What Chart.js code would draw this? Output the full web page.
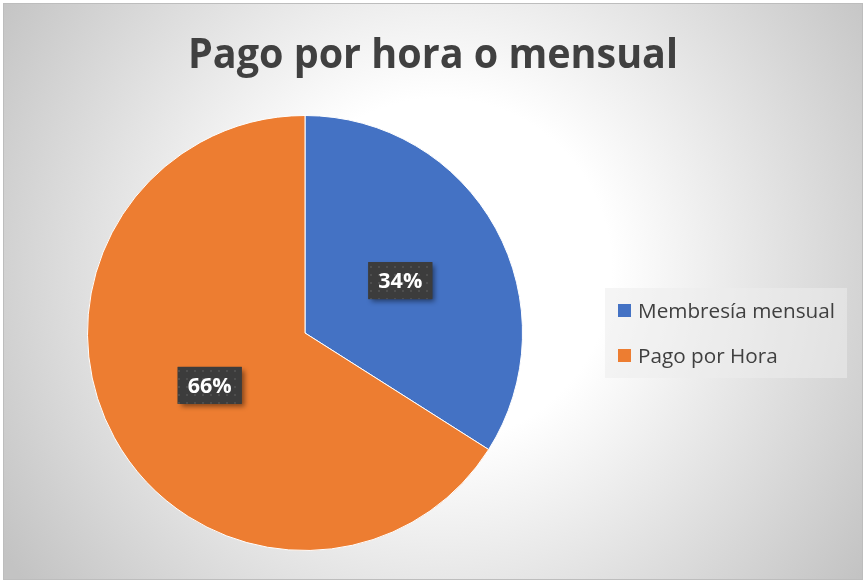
<!DOCTYPE html>
<html>
<head>
<meta charset="utf-8">
<script src="https://cdn.jsdelivr.net/npm/chart.js@4"></script>
<style>
  html, body { margin: 0; padding: 0; background: #ffffff; }
  #wrap { width: 865px; height: 582px; }
</style>
</head>
<body>
<div id="wrap"><canvas id="c" width="865" height="582"></canvas></div>
<script>
const titleText = "Pago por hora o mensual";
const categories = ["Membresía mensual", "Pago por Hora"];
const values = [34, 66];
const percentLabels = ["34%", "66%"];
const sliceColors = ["#4472C4", "#ED7D31"];

const FONT = "'Open Sans', 'Liberation Sans', sans-serif";

function makePattern(ctx) {
  const p = document.createElement('canvas');
  p.width = 8; p.height = 8;
  const pc = p.getContext('2d');
  pc.fillStyle = '#3c3c3c';
  pc.fillRect(0, 0, 8, 8);
  pc.fillStyle = '#4e4e4e';
  pc.fillRect(2, 2, 2, 2);
  return ctx.createPattern(p, 'repeat');
}

// draw text scaled horizontally by factor sx (narrower like Calibri)
function fillScaled(ctx, text, x, y, sx) {
  ctx.save();
  ctx.translate(x, y);
  ctx.scale(sx, 1);
  ctx.fillText(text, 0, 0);
  ctx.restore();
}

const decorPlugin = {
  id: 'decor',
  beforeDraw(chart) {
    const ctx = chart.ctx;
    const W = chart.width, H = chart.height;
    ctx.save();
    ctx.fillStyle = '#ffffff';
    ctx.fillRect(0, 0, W, H);
    const g = ctx.createRadialGradient(440, 270, 0, 440, 270, 520);
    g.addColorStop(0, '#ffffff');
    g.addColorStop(0.33, '#ffffff');
    g.addColorStop(1, '#c3c3c3');
    ctx.fillStyle = g;
    ctx.fillRect(4, 4, 858, 575);
    ctx.strokeStyle = '#bdbdbd';
    ctx.lineWidth = 1;
    ctx.strokeRect(3.5, 3.5, 859, 576);

    // title
    ctx.fillStyle = '#404040';
    ctx.font = 'bold 42px ' + FONT;
    const w = ctx.measureText(titleText).width;
    ctx.textAlign = 'center';
    ctx.textBaseline = 'alphabetic';
    fillScaled(ctx, titleText, 433, 68, 490 / w);
    ctx.restore();
  },
  afterDraw(chart) {
    const ctx = chart.ctx;
    const meta = chart.getDatasetMeta(0);
    ctx.save();
    const pat = makePattern(ctx);
    meta.data.forEach((arc, i) => {
      const pos = arc.tooltipPosition();
      const bw = 64, bh = 37;
      const x = pos.x - bw / 2, y = pos.y - bh / 2;
      ctx.save();
      ctx.shadowColor = 'rgba(0,0,0,0.45)';
      ctx.shadowBlur = 5;
      ctx.shadowOffsetX = 3;
      ctx.shadowOffsetY = 3;
      ctx.fillStyle = '#3c3c3c';
      ctx.fillRect(x, y, bw, bh);
      ctx.restore();
      ctx.fillStyle = pat;
      ctx.fillRect(x, y, bw, bh);
      ctx.fillStyle = '#ffffff';
      ctx.font = 'bold 22px ' + FONT;
      ctx.textAlign = 'center';
      ctx.textBaseline = 'middle';
      const tw = ctx.measureText(percentLabels[i]).width;
      fillScaled(ctx, percentLabels[i], pos.x, pos.y + 1, Math.min(1, 44 / tw));
    });

    // legend
    ctx.fillStyle = 'rgba(236,236,236,0.55)';
    ctx.fillRect(605, 288, 242, 90);
    ctx.font = '20px ' + FONT;
    ctx.textAlign = 'left';
    ctx.textBaseline = 'alphabetic';
    const sx = 197 / ctx.measureText(categories[0]).width;
    categories.forEach((name, i) => {
      const yy = 304 + i * 45;
      ctx.fillStyle = sliceColors[i];
      ctx.fillRect(618, yy, 13, 13);
      ctx.fillStyle = '#404040';
      fillScaled(ctx, name, 638, yy + 14, sx);
    });
    ctx.restore();
  }
};

new Chart(document.getElementById('c'), {
  type: 'pie',
  data: {
    labels: categories,
    datasets: [{
      data: values,
      backgroundColor: sliceColors,
      borderColor: '#ffffff',
      borderWidth: 1
    }]
  },
  options: {
    responsive: false,
    animation: false,
    layout: { padding: { left: 87, right: 342, top: 115, bottom: 31 } },
    plugins: {
      legend: { display: false },
      title: { display: false },
      tooltip: { enabled: false }
    }
  },
  plugins: [decorPlugin]
});
</script>
</body>
</html>
